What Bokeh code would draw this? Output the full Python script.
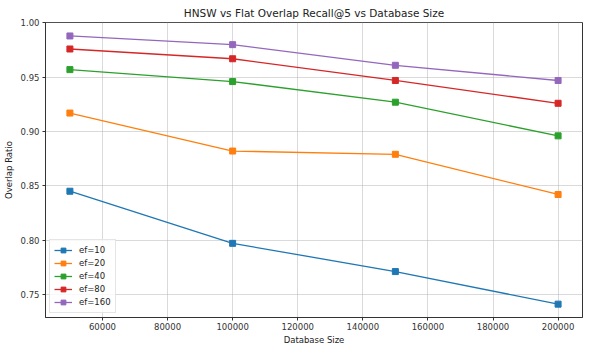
from bokeh.plotting import figure
from bokeh.models import FixedTicker, NumeralTickFormatter, Range1d, Legend, LegendItem, Title
from bokeh.embed import file_html
from bokeh.resources import INLINE

sizes = [50000, 100000, 150000, 200000]
ef10 = [0.845, 0.797, 0.771, 0.741]
ef20 = [0.917, 0.882, 0.879, 0.842]
ef40 = [0.957, 0.946, 0.927, 0.896]
ef80 = [0.976, 0.967, 0.947, 0.926]
ef160 = [0.988, 0.980, 0.961, 0.947]
labels = ["ef=10", "ef=20", "ef=40", "ef=80", "ef=160"]
series = [ef10, ef20, ef40, ef80, ef160]
colors = ["#1f77b4", "#ff7f0e", "#2ca02c", "#d62728", "#9467bd"]
xticks = [60000, 80000, 100000, 120000, 140000, 160000, 180000, 200000]
yticks = [0.75, 0.80, 0.85, 0.90, 0.95, 1.00]

p = figure(width=584, height=344, output_backend="svg", toolbar_location=None,
           title="HNSW vs Flat Overlap Recall@5 vs Database Size",
           x_range=Range1d(42500, 207500), y_range=Range1d(0.7287, 1.0004),
           min_border_left=37, min_border_right=2, min_border_top=14, min_border_bottom=0)
p.title.align = "center"
p.title.text_font = "DejaVu Sans"
p.title.text_font_size = "10.5px"
p.title.text_font_style = "normal"
p.title.text_color = "#222222"
p.title.standoff = 8

p.yaxis.axis_label = "Overlap Ratio"
p.xaxis.axis_label = None
for ax in [p.xaxis[0], p.yaxis[0]]:
    ax.axis_label_text_font = "DejaVu Sans"
    ax.axis_label_text_font_size = "8.5px"
    ax.axis_label_text_font_style = "normal"
    ax.axis_label_text_color = "#222222"
    ax.major_label_text_font = "DejaVu Sans"
    ax.major_label_text_font_size = "8.5px"
    ax.major_label_text_color = "#333333"
    ax.minor_tick_line_color = None
    ax.major_tick_in = 0
    ax.major_tick_out = 3
    ax.axis_line_color = "#333333"
    ax.major_tick_line_color = "#333333"
p.xaxis.major_label_standoff = 2
p.yaxis.axis_label_standoff = 4
p.yaxis.major_label_standoff = 3
p.xaxis.ticker = FixedTicker(ticks=xticks)
p.yaxis.ticker = FixedTicker(ticks=yticks)
p.xaxis.formatter = NumeralTickFormatter(format="0")
p.yaxis.formatter = NumeralTickFormatter(format="0.00")
p.grid.grid_line_color = "#b0b0b0"
p.grid.grid_line_alpha = 0.6
p.grid.grid_line_width = 0.8
p.outline_line_color = "#333333"
p.outline_line_width = 1

xlabel = Title(text="Database Size", align="center", text_font="DejaVu Sans",
               text_font_size="8.5px", text_font_style="normal", text_color="#222222",
               standoff=0, offset=0)
p.add_layout(xlabel, "below")

items = []
for lab, ys, c in zip(labels, series, colors):
    r1 = p.line(sizes, ys, line_color=c, line_width=1.3)
    r2 = p.scatter(sizes, ys, marker="square", size=6, fill_color=c, line_color=c)
    items.append(LegendItem(label=lab, renderers=[r1, r2]))

leg = Legend(items=items, location="bottom_left")
leg.label_text_font = "DejaVu Sans"
leg.label_text_font_size = "8.5px"
leg.label_text_color = "#222222"
leg.glyph_width = 18
leg.glyph_height = 12
leg.spacing = 1
leg.padding = 4
leg.margin = 4
leg.label_height = 12
leg.label_standoff = 7
leg.border_line_color = "#cccccc"
leg.background_fill_alpha = 0.8
p.add_layout(leg)

open("out.html", "w").write(file_html(p, INLINE))
